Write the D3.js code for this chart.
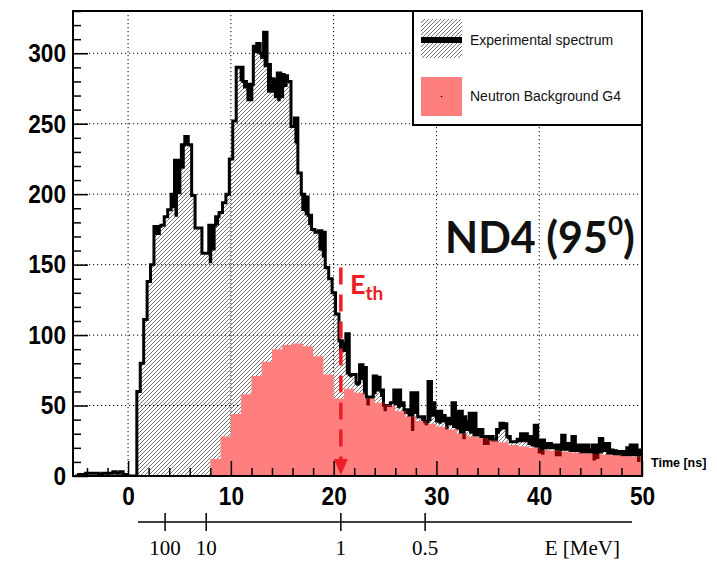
<!DOCTYPE html>
<html><head><meta charset="utf-8">
<script src="https://cdn.jsdelivr.net/npm/d3@7"></script>
<style>body{margin:0;background:#fff}svg{display:block}</style>
</head><body>
<svg id="c" width="717" height="561"></svg>
<script>
// ---------------- data ----------------
const binStart = -5.15;          // ns, first bin edge of experimental histogram
const binWidth = 1 / 3;          // ns
// Experimental spectrum: outline (thick black line)
const expCounts = [
  0,1,1,2,2,2,2,1,2,2,2,3,2,3,1,0,0,0,
  60,80,111,138,150,177,177,178,184,189,
  200,224,224,235,241,235,199,176,176,158,
  158,178,178,184,187,194,200,225,252,290,
  290,280,278,278,305,307,300,315,292,282,
  281,286,285,284,280,248,254,215,200,198,
  185,175,173,174,173,148,140,130,115,96,
  94,101,72,72,66,79,77,56,56,71,
  70,61,50,50,52,61,61,52,47,47,
  59,59,42,42,38.5,67,52,46,46,43,
  41,41,52,46,46,42,38.5,44.5,44.5,33,
  33,28,28,28,25.5,33,37.4,37,28,24.3,
  24.3,26,30,30,28,28,36,25.5,25.5,23,
  23,22,22,22,29,23,23,28,22,22,
  22,22,18.4,22,22,26.7,23,23,18.4,18,
  17.3,17.3,17.3,20,22,22,18.4,18.4
];
// Experimental spectrum: top of the hatched fill
const hatchCounts = [
  0,1,1,2,2,2,2,1,2,2,2,3,2,3,1,0,0,0,
  60,80,111,138,150,171,171,178,184,189,
  190,184,200,218,235,235,199,176,176,158,
  158,151,160,178,187,194,200,225,252,290,
  280,275,266,266,300,300,296,290,272,272,
  268,266,268,276,280,248,236,215,188,185,
  178,175,173,160,155,148,140,130,115,88,
  88,72,70,72,64,68,58,50,55,58,
  60,56,46,50,52,50,48,49,44,42,
  32,44,41,39,36,39,42,38,37,38,
  33,36,34,33,30,26,32,30,28,28,
  27,22,22,25,25.5,30,33,33,26,24,
  24,24,24,24,22,21,20,16,15,19,
  19,19,14,14,18,18,17,17,17,16,
  16,16,16,11,12,16,17,15,15,14.5,
  14.5,14,14,14,14,14,10,14
];
// Neutron background G4 (1 ns bins starting at 8 ns)
const bkgStart = 8;
const bkgWidth = 1;
const bkgCounts = [12,28,44,58,71,81,90,93,94,92,85,72,55,62,59,55,52,50,46,42,
                   39,37,35,33,30,28,27,25,24,22,21,20,18.5,18,17.3,16.6,16,15.6,15,14.5,14,13.7];
const xTicks = [0,10,20,30,40,50];
const yTicks = [0,50,100,150,200,250,300];
const energyLabels = ["100","10","1","0.5"];
const energyTimes = [3.6,7.6,20.7,28.9];
const eth = 20.7;
const legendLabels = ["Experimental spectrum","Neutron Background G4"];

// ---------------- layout ----------------
const svg = d3.select("#c");
const P = {l:73, r:642, t:11, b:476};
const x = d3.scaleLinear().domain([-5.36,50]).range([P.l,P.r]);
const y = d3.scaleLinear().domain([0,330]).range([P.b,P.t]);
const AX_FONT = "Liberation Sans, Arial, Helvetica, sans-serif";

// histogram points
const expPts = expCounts.map((v,i)=>({t:binStart+i*binWidth, v, h:hatchCounts[i]}));
expPts.push({t:binStart+expCounts.length*binWidth, v:expCounts[expCounts.length-1], h:hatchCounts[hatchCounts.length-1]});
const bkgPts = [{t:bkgStart,v:0}].concat(bkgCounts.map((v,i)=>({t:bkgStart+i*bkgWidth, v})));
bkgPts.push({t:bkgStart+bkgCounts.length*bkgWidth, v:bkgCounts[bkgCounts.length-1]});

const expArea = d3.area().curve(d3.curveStepAfter).x(d=>x(d.t)).y0(y(0)).y1(d=>y(d.v));
const blackArea = d3.area().curve(d3.curveStepAfter).x(d=>x(d.t)).y0(d=>y(d.h)).y1(d=>y(d.v));
const expLine = d3.line().curve(d3.curveStepAfter).x(d=>x(d.t)).y(d=>y(d.v));
const bkgArea = d3.area().curve(d3.curveStepAfter).x(d=>x(d.t)).y0(y(0)).y1(d=>y(d.v));

const defs = svg.append("defs");
defs.append("clipPath").attr("id","clip").append("rect")
  .attr("x",P.l).attr("y",P.t).attr("width",P.r-P.l).attr("height",P.b-P.t);
defs.append("clipPath").attr("id","redclip").append("path").attr("d",bkgArea(bkgPts));
const pat = defs.append("pattern").attr("id","hatch").attr("patternUnits","userSpaceOnUse")
  .attr("width",4).attr("height",4);
pat.append("path").attr("d","M-1,1 l2,-2 M0,4 l4,-4 M3,5 l2,-2")
  .attr("stroke","#3a3a3a").attr("stroke-width",0.7);

// grid
const grid = svg.append("g");
xTicks.filter(d=>d<50).forEach(d=>grid.append("line").attr("x1",x(d)).attr("x2",x(d))
  .attr("y1",P.t).attr("y2",P.b).attr("stroke","#000").attr("stroke-width",1).attr("stroke-dasharray","1.2,2.8"));
yTicks.filter(d=>d>0).forEach(d=>grid.append("line").attr("x1",P.l).attr("x2",P.r)
  .attr("y1",y(d)).attr("y2",y(d)).attr("stroke","#000").attr("stroke-width",1).attr("stroke-dasharray","1.2,2.8"));

const g = svg.append("g").attr("clip-path","url(#clip)");
g.append("path").datum(expPts).attr("d",expArea).attr("fill","url(#hatch)");
g.append("path").datum(expPts).attr("d",blackArea).attr("fill","#000");
g.append("path").datum(expPts).attr("d",expLine)
  .attr("fill","none").attr("stroke","#000").attr("stroke-width",3);
// background: hides hatch below it, keeps black marks visible (darkened) through it
g.append("path").datum(bkgPts).attr("d",bkgArea).attr("fill","#fff");
const gr = g.append("g").attr("clip-path","url(#redclip)");
gr.append("path").datum(expPts).attr("d",blackArea).attr("fill","#000");
gr.append("path").datum(expPts).attr("d",expLine)
  .attr("fill","none").attr("stroke","#000").attr("stroke-width",3);
g.append("path").datum(bkgPts).attr("d",bkgArea).attr("fill","#ff0000").attr("fill-opacity",0.5);

// frame
svg.append("rect").attr("x",P.l).attr("y",P.t).attr("width",P.r-P.l).attr("height",P.b-P.t)
  .attr("fill","none").attr("stroke","#000").attr("stroke-width",2);

function styleLabels(sel){
  sel.attr("font-family",AX_FONT).attr("font-weight","bold").attr("font-size",26).attr("fill","#000")
    .attr("lengthAdjust","spacingAndGlyphs")
    .each(function(){ const s=d3.select(this).text(); d3.select(this).attr("textLength",12.6*s.length); });
}
// y axis
const yAx = svg.append("g").attr("transform",`translate(${P.l},0)`)
  .call(d3.axisLeft(y).tickValues(yTicks).tickSizeInner(-15).tickSizeOuter(0).tickPadding(7));
yAx.select(".domain").remove();
yAx.selectAll("line").attr("stroke","#000").attr("stroke-width",1.5);
styleLabels(yAx.selectAll("text"));
const yMinor = svg.append("g").attr("transform",`translate(${P.l},0)`)
  .call(d3.axisLeft(y).tickValues(d3.range(10,331,10).filter(d=>d%50)).tickSizeInner(-8).tickSizeOuter(0).tickFormat(""));
yMinor.select(".domain").remove();
yMinor.selectAll("line").attr("stroke","#000").attr("stroke-width",1.5);

// x axis
const xAx = svg.append("g").attr("transform",`translate(0,${P.b})`)
  .call(d3.axisBottom(x).tickValues(xTicks).tickSizeInner(-15).tickSizeOuter(0).tickPadding(11));
xAx.select(".domain").remove();
xAx.selectAll("line").attr("stroke","#000").attr("stroke-width",1.5);
styleLabels(xAx.selectAll("text"));
const xMinor = svg.append("g").attr("transform",`translate(0,${P.b})`)
  .call(d3.axisBottom(x).tickValues(d3.range(-4,50,2).filter(d=>d%10)).tickSizeInner(-8).tickSizeOuter(0).tickFormat(""));
xMinor.select(".domain").remove();
xMinor.selectAll("line").attr("stroke","#000").attr("stroke-width",1.5);

svg.append("text").attr("x",651).attr("y",467).attr("font-family",AX_FONT)
  .attr("font-weight","bold").attr("font-size",12.5).text("Time [ns]");

// energy axis
const eY = 522;
svg.append("line").attr("x1",138).attr("x2",632).attr("y1",eY).attr("y2",eY).attr("stroke","#000").attr("stroke-width",1.5);
energyTimes.forEach((t,i)=>{
  svg.append("line").attr("x1",x(t)).attr("x2",x(t)).attr("y1",eY-9).attr("y2",eY+9).attr("stroke","#000").attr("stroke-width",1.5);
  svg.append("text").attr("x",x(t)).attr("y",555).attr("text-anchor","middle")
    .attr("font-family","Liberation Serif, Times New Roman, serif").attr("font-size",21).text(energyLabels[i]);
});
svg.append("text").attr("x",620).attr("y",555).attr("text-anchor","end")
  .attr("font-family","Liberation Serif, Times New Roman, serif").attr("font-size",21).text("E [MeV]");

// E_th marker
const red = "#ee1c25";
svg.append("line").attr("x1",x(eth)).attr("x2",x(eth)).attr("y1",y(148)).attr("y2",y(0)-16)
  .attr("stroke",red).attr("stroke-width",3.5).attr("stroke-dasharray","17,10");
svg.append("path").attr("d",`M${x(eth)-7},${y(0)-17} L${x(eth)+7},${y(0)-17} L${x(eth)},${y(0)-1} Z`).attr("fill",red);
const eth_t = svg.append("text").attr("x",350).attr("y",294).attr("fill",red)
  .attr("font-family","Lato, Open Sans, sans-serif").attr("font-weight","bold").attr("font-size",27);
eth_t.append("tspan").text("E");
eth_t.append("tspan").attr("font-size",19).attr("dy",6).text("th");

// ND4 label
const nd = svg.append("text").attr("x",445).attr("y",253).attr("fill","#111")
  .attr("font-family","Lato, Open Sans, sans-serif").attr("font-weight","bold").attr("font-size",43);
nd.append("tspan").text("ND4 (95");
nd.append("tspan").attr("font-size",26).attr("dy",-18).text("0");
nd.append("tspan").attr("dy",18).text(")");

// legend
const L = {x:413, y:11, w:229, h:114};
svg.append("rect").attr("x",L.x).attr("y",L.y).attr("width",L.w).attr("height",L.h)
  .attr("fill","#fff").attr("stroke","#000").attr("stroke-width",2);
svg.append("rect").attr("x",421).attr("y",19).attr("width",41).attr("height",39).attr("fill","url(#hatch)");
svg.append("line").attr("x1",421).attr("x2",462).attr("y1",40).attr("y2",40).attr("stroke","#000").attr("stroke-width",6);
svg.append("rect").attr("x",421).attr("y",77).attr("width",41).attr("height",39).attr("fill","#ff0000").attr("fill-opacity",0.5);
svg.append("circle").attr("cx",441.5).attr("cy",96.5).attr("r",0.8).attr("fill","#000");
legendLabels.forEach((s,i)=>svg.append("text").attr("x",470).attr("y",45+i*56)
  .attr("font-family",AX_FONT).attr("font-size",14).attr("fill","#111").text(s));
</script>
</body></html>
